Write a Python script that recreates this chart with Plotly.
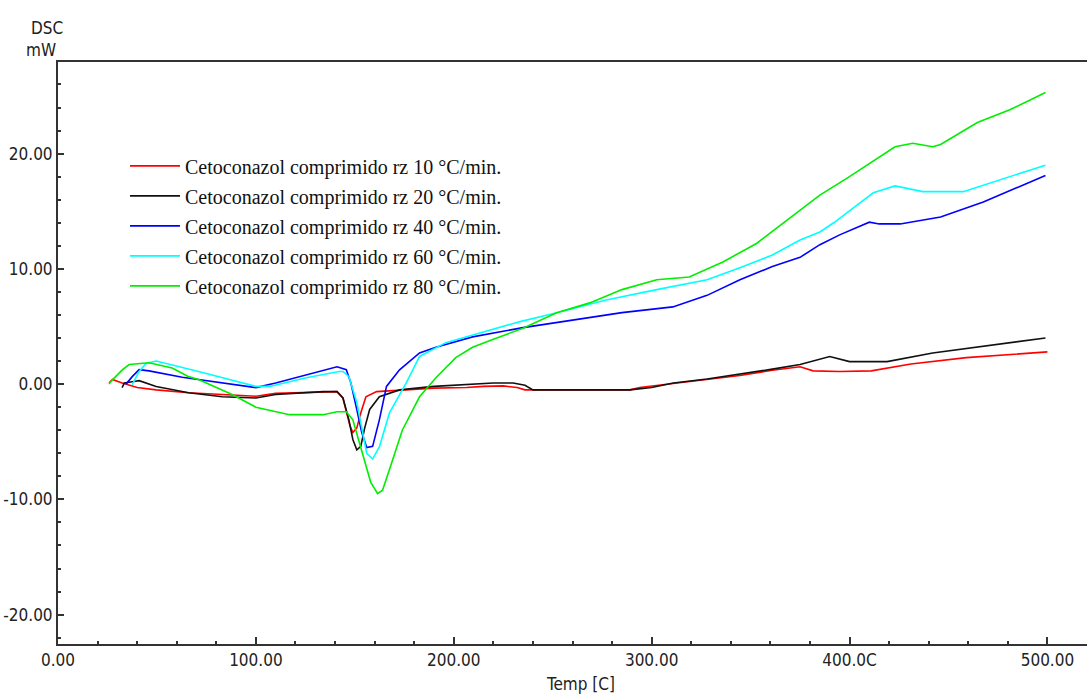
import plotly.graph_objects as go

# ---- data ----
names = [
    "Cetoconazol comprimido rz 10 °C/min.",
    "Cetoconazol comprimido rz 20 °C/min.",
    "Cetoconazol comprimido rz 40 °C/min.",
    "Cetoconazol comprimido rz 60 °C/min.",
    "Cetoconazol comprimido rz 80 °C/min.",
]
colors = ["#ff0000", "#111111", "#0000ff", "#00ffff", "#00ee00"]

x10 = [25.8, 27.5, 32.4, 40, 49.6, 66, 83, 100, 110, 125, 141, 144, 145.7, 147.5, 149, 151, 153, 155.6, 161, 174, 190,
       206.5, 215, 225, 232, 236, 250, 270, 289, 294, 311, 328, 344.6, 361, 375, 381.6, 395, 411, 431, 459, 485, 500]
y10 = [0.1, 0.4, 0.1, -0.3, -0.5, -0.75, -0.9, -1.05, -0.8, -0.7, -0.65, -1.2, -2.5, -3.6, -4.2, -3.8, -2.5, -1.1, -0.65,
       -0.5, -0.35, -0.3, -0.2, -0.15, -0.3, -0.5, -0.5, -0.5, -0.5, -0.3, 0.05, 0.35, 0.75, 1.2, 1.5, 1.15, 1.1, 1.15,
       1.75, 2.3, 2.6, 2.8]

x20 = [32.4, 33.5, 37.5, 41, 49.6, 66, 83, 100, 110, 134, 141, 144, 147, 149, 151, 153, 155, 157.5, 162.4, 172.6, 190,
       208, 220, 230, 236, 240, 260, 289, 300, 311, 328, 344.6, 361, 375, 390, 400, 419, 442, 476, 499]
y20 = [-0.3, 0.1, 0.2, 0.3, -0.2, -0.75, -1.1, -1.2, -0.9, -0.65, -0.65, -1.2, -3.1, -4.8, -5.7, -5.4, -3.8, -2.2, -1.1,
       -0.5, -0.2, -0.05, 0.1, 0.1, -0.1, -0.5, -0.5, -0.5, -0.3, 0.1, 0.45, 0.85, 1.3, 1.7, 2.4, 1.95, 1.95, 2.7, 3.5,
       4.0]

x40 = [34.4, 37.5, 41, 46, 62.8, 80, 100, 110, 125.5, 141, 145.7, 148, 151, 153.5, 156, 159, 162.4, 166, 172.6, 182.7,
       191, 209.5, 235, 260, 285, 310.7, 328, 344.6, 361, 375, 385, 395, 410, 415, 425.6, 446, 467.6, 499]
y40 = [0, 0.65, 1.25, 1.15, 0.6, 0.2, -0.3, 0.1, 0.8, 1.5, 1.25, 0.1, -2.2, -4.2, -5.5, -5.4, -3.1, -0.2, 1.24, 2.7,
       3.2, 4.1, 4.9, 5.55, 6.2, 6.7, 7.7, 9.05, 10.2, 11.0, 12.1, 12.95, 14.05, 13.9, 13.9, 14.5, 15.8, 18.1]

x60 = [37.5, 41, 44.5, 49.6, 71, 100, 107, 125.5, 142, 144, 147, 151, 156, 159, 162.5, 167.5, 176, 182.7, 196, 213,
       233, 252, 277, 302.6, 328, 344.6, 361, 375, 385, 392, 412, 423, 437, 457.5, 476, 499]
y60 = [-0.05, 1.1, 1.8, 2.0, 1.1, -0.2, -0.2, 0.55, 1.1, 1.1, 0.65, -1.6, -6.0, -6.5, -5.4, -2.5, 0.1, 2.4, 3.6, 4.45,
       5.4, 6.2, 7.3, 8.2, 9.05, 10.1, 11.2, 12.5, 13.2, 14.0, 16.6, 17.2, 16.7, 16.7, 17.7, 19.0]

x80 = [25.8, 27.5, 32.6, 36, 46, 57.7, 66, 71, 88, 100, 117, 134, 141, 145.7, 149, 154, 158, 161.5, 164, 167.5, 174,
       182.7, 191, 201, 209.5, 220, 235, 252, 268.7, 285, 302.6, 319, 336, 353, 370, 385, 399, 423, 432, 442, 446,
       464.6, 481, 499]
y80 = [0, 0.37, 1.25, 1.7, 1.85, 1.4, 0.65, 0.4, -0.9, -2.0, -2.65, -2.65, -2.4, -2.4, -3.1, -6.0, -8.5, -9.5, -9.2,
       -7.4, -4.0, -1.1, 0.55, 2.3, 3.2, 3.9, 4.85, 6.2, 7.05, 8.2, 9.05, 9.3, 10.6, 12.2, 14.4, 16.4, 17.9, 20.6, 20.9,
       20.6, 20.8, 22.7, 23.8, 25.3]

xs = [x10, x20, x40, x60, x80]
ys = [y10, y20, y40, y60, y80]

x_ticks = [0, 100, 200, 300, 400, 500]
x_tick_labels = ["0.00", "100.00", "200.00", "300.00", "400.0C", "500.00"]
y_ticks = [-20, -10, 0, 10, 20]
y_tick_labels = ["-20.00", "-10.00", "0.00", "10.00", "20.00"]

# ---- figure ----
fig = go.Figure()
for i in range(5):
    fig.add_trace(go.Scatter(
        x=xs[i], y=ys[i], mode="lines", name=names[i],
        line=dict(color=colors[i], width=1.6),
        legendgroup=str(i),
    ))

tick_font = dict(family="Liberation Sans Narrow, Arial Narrow, DejaVu Sans Condensed, sans-serif",
                 size=17, color="#222222")

fig.update_layout(
    width=1087, height=694,
    margin=dict(l=58, r=0, t=62, b=50),
    paper_bgcolor="white", plot_bgcolor="white",
    showlegend=True,
    legend=dict(
        x=0.0651, y=0.855, xanchor="left", yanchor="top",
        bgcolor="rgba(0,0,0,0)", borderwidth=0,
        font=dict(family="Liberation Serif, Times New Roman, serif", size=20, color="#111111"),
        traceorder="grouped", tracegroupgap=1,
        itemwidth=50,
    ),
    xaxis=dict(
        range=[0, 520], showgrid=False, zeroline=False, automargin=False,
        showline=True, linecolor="#333333", linewidth=2, mirror=True,
        ticks="inside", ticklen=7, tickwidth=1.5, tickcolor="#333333",
        tickmode="array", tickvals=x_ticks, ticktext=x_tick_labels,
        tickfont=tick_font,
        minor=dict(dtick=20, ticks="inside", ticklen=3, tickwidth=1.5, tickcolor="#333333", showgrid=False),
    ),
    yaxis=dict(
        range=[-22.55, 27.95], showgrid=False, zeroline=False, automargin=False,
        showline=True, linecolor="#333333", linewidth=2,
        ticks="inside", ticklen=6, tickwidth=1.5, tickcolor="#333333",
        tickmode="array", tickvals=y_ticks, ticktext=y_tick_labels,
        tickfont=tick_font,
        minor=dict(dtick=2, ticks="inside", ticklen=3, tickwidth=1.5, tickcolor="#333333", showgrid=False),
    ),
    annotations=[
        dict(text="DSC", xref="paper", yref="paper", x=-0.0107, y=1.058, showarrow=False,
             font=tick_font, xanchor="center", yanchor="middle"),
        dict(text="mW", xref="paper", yref="paper", x=-0.0165, y=1.0206, showarrow=False,
             font=tick_font, xanchor="center", yanchor="middle"),
        dict(text="Temp [C]", xref="paper", yref="paper", x=0.508, y=-0.0687, showarrow=False,
             font=tick_font, xanchor="center", yanchor="middle"),
    ],
)

fig.write_html("out.html")
